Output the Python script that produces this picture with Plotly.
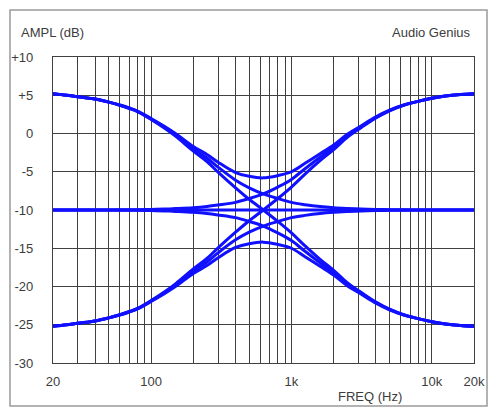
import plotly.graph_objects as go

# ---- data (tone-control family, dB) ----
freq_hz = [20, 25, 30, 40, 50, 60, 70, 80, 100, 125, 150, 200, 250, 300, 400, 500,
           630, 800, 1000, 1250, 1600, 2000, 2500, 3150, 4000, 5000, 6300, 8000,
           10000, 12500, 16000, 20000]

bass_up_treble_up = [5.2, 5.0, 4.8, 4.5, 4.1, 3.72, 3.33, 2.94, 1.97, 0.92, -0.02, -1.7,
                     -2.74, -3.75, -5.1, -5.6, -5.8, -5.5, -5.0, -3.9, -2.65, -1.5, -0.1,
                     1.02, 2.17, 3.04, 3.72, 4.2, 4.6, 4.9, 5.1, 5.2]
bass_up_treble_flat = [5.2, 5.0, 4.8, 4.5, 4.1, 3.7, 3.3, 2.9, 1.9, 0.8, -0.2, -2.0, -3.2,
                       -4.4, -6.1, -7.1, -7.9, -8.5, -9.0, -9.3, -9.55, -9.7, -9.8, -9.88,
                       -9.93, -9.96, -9.98, -10, -10, -10, -10, -10]
bass_up_treble_down = [5.2, 5.0, 4.8, 4.5, 4.1, 3.68, 3.27, 2.86, 1.83, 0.68, -0.38, -2.3,
                       -3.66, -5.05, -7.1, -8.6, -10.0, -11.5, -13.0, -14.7, -16.45, -17.9,
                       -19.5, -20.78, -22.03, -22.96, -23.68, -24.2, -24.6, -24.9, -25.1, -25.2]
bass_flat_treble_up = [-10, -10, -10, -10, -10, -9.98, -9.97, -9.96, -9.93, -9.88, -9.82,
                       -9.7, -9.54, -9.35, -9.0, -8.5, -7.9, -7.0, -6.0, -4.6, -3.1, -1.8,
                       -0.3, 0.9, 2.1, 3.0, 3.7, 4.2, 4.6, 4.9, 5.1, 5.2]
bass_flat_treble_flat = [-10] * 32
bass_flat_treble_down = [-10, -10, -10, -10, -10, -10.02, -10.03, -10.04, -10.07, -10.12,
                         -10.18, -10.3, -10.46, -10.65, -11.0, -11.5, -12.1, -13.0, -14.0,
                         -15.4, -16.9, -18.2, -19.7, -20.9, -22.1, -23.0, -23.7, -24.2,
                         -24.6, -24.9, -25.1, -25.2]
bass_down_treble_up = [-25.2, -25.0, -24.8, -24.5, -24.1, -23.68, -23.27, -22.86, -21.83,
                       -20.68, -19.62, -17.7, -16.34, -14.95, -12.9, -11.4, -10.0, -8.5,
                       -7.0, -5.3, -3.55, -2.1, -0.5, 0.78, 2.03, 2.96, 3.68, 4.2, 4.6,
                       4.9, 5.1, 5.2]
bass_down_treble_flat = [-25.2, -25.0, -24.8, -24.5, -24.1, -23.7, -23.3, -22.9, -21.9,
                         -20.8, -19.8, -18.0, -16.8, -15.6, -13.9, -12.9, -12.1, -11.5,
                         -11.0, -10.7, -10.45, -10.3, -10.2, -10.12, -10.07, -10.04, -10.02,
                         -10, -10, -10, -10, -10]
bass_down_treble_down = [-25.2, -25.0, -24.8, -24.5, -24.1, -23.72, -23.33, -22.94, -21.97,
                         -20.92, -19.98, -18.3, -17.26, -16.25, -14.9, -14.4, -14.2, -14.5,
                         -15.0, -16.1, -17.35, -18.5, -19.9, -21.02, -22.17, -23.04, -23.72,
                         -24.2, -24.6, -24.9, -25.1, -25.2]

curves = [bass_up_treble_up, bass_up_treble_flat, bass_up_treble_down,
          bass_flat_treble_up, bass_flat_treble_flat, bass_flat_treble_down,
          bass_down_treble_up, bass_down_treble_flat, bass_down_treble_down]

x_grid_vals = [20, 30, 40, 50, 60, 70, 80, 90, 100, 200, 300, 400, 500, 600, 700, 800,
               900, 1000, 2000, 3000, 4000, 5000, 6000, 7000, 8000, 9000, 10000, 20000]
x_labels = {20: "20", 100: "100", 1000: "1k", 10000: "10k", 20000: "20k"}
y_tick_vals = [-30, -25, -20, -15, -10, -5, 0, 5, 10]
y_tick_text = ["-30", "-25", "-20", "-15", "-10", "-5", "0", "+5", "+10"]

FONT = "Liberation Sans, Arial, sans-serif"
TXT = "#3c3c3c"
GRID = "#404040"

fig = go.Figure()
for c in curves:
    fig.add_trace(go.Scatter(x=freq_hz, y=c, mode="lines",
                             line=dict(color="#1010ff", width=3, shape="spline", smoothing=1.0),
                             hoverinfo="skip", showlegend=False))

fig.update_layout(
    width=495, height=408,
    margin=dict(l=53, r=21, t=57, b=45, autoexpand=False),
    paper_bgcolor="white", plot_bgcolor="white",
    font=dict(family=FONT, size=13, color=TXT),
    showlegend=False,
)
fig.update_xaxes(
    type="log", range=[1.30103, 4.30103], automargin=False,
    tickmode="array", tickvals=x_grid_vals,
    ticktext=[x_labels.get(v, "") for v in x_grid_vals],
    showgrid=True, gridcolor=GRID, gridwidth=1.4,
    showline=True, linecolor=GRID, linewidth=1.4, mirror=True,
    ticks="", ticklabelstandoff=6, zeroline=False,
    tickfont=dict(family=FONT, size=13, color=TXT),
)
fig.update_yaxes(
    range=[-30, 10], automargin=False,
    tickmode="array", tickvals=y_tick_vals, ticktext=y_tick_text,
    showgrid=True, gridcolor=GRID, gridwidth=1.4,
    showline=True, linecolor=GRID, linewidth=1.4, mirror=True,
    ticks="", ticklabelstandoff=16, zeroline=False,
    tickfont=dict(family=FONT, size=13, color=TXT),
)

# outer frame
fig.add_shape(type="rect", xref="paper", yref="paper",
              x0=(10 - 53) / 421, x1=(487 - 53) / 421,
              y0=(363 - 406) / 306, y1=(363 - 10) / 306,
              line=dict(color="#9a9a9a", width=1.5), fillcolor="rgba(0,0,0,0)", layer="above")

fig.add_annotation(text="AMPL (dB)", xref="paper", yref="paper",
                   x=(19 - 53) / 421, y=(363 - 32) / 306, xanchor="left", yanchor="middle",
                   showarrow=False, font=dict(family=FONT, size=13, color=TXT))
fig.add_annotation(text="Audio Genius", xref="paper", yref="paper",
                   x=(473 - 53) / 421, y=(363 - 32) / 306, xanchor="right", yanchor="middle",
                   showarrow=False, font=dict(family=FONT, size=13, color=TXT))
fig.add_annotation(text="FREQ (Hz)", xref="paper", yref="paper",
                   x=(370 - 53) / 421, y=(363 - 396) / 306, xanchor="center", yanchor="middle",
                   showarrow=False, font=dict(family=FONT, size=13, color=TXT))

fig.write_html("out.html", config={"displayModeBar": False},
               post_script="document.body.style.margin='0';document.body.style.padding='0';")
